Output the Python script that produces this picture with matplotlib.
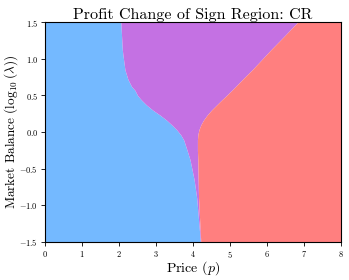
import matplotlib
matplotlib.use('Agg')
import matplotlib.pyplot as plt

plt.rcParams['font.family'] = 'serif'
plt.rcParams['font.serif'] = ['cmr10']
plt.rcParams['mathtext.fontset'] = 'cm'
plt.rcParams['axes.formatter.use_mathtext'] = True
plt.rcParams['axes.unicode_minus'] = True

# boundary curves: x position of each edge at given log10(lambda)
y_levels = [-1.5, -1.2, -0.9, -0.65, -0.38, -0.25, -0.11, -0.04, 0.03, 0.095,
            0.16, 0.23, 0.30, 0.37, 0.44, 0.5, 0.57, 0.62, 0.72, 0.85, 1.0,
            1.12, 1.3, 1.5]
blue_edge = [4.20, 4.15, 4.10, 4.03, 3.92, 3.84, 3.75, 3.67, 3.56, 3.43,
             3.29, 3.11, 2.91, 2.74, 2.60, 2.50, 2.43, 2.34, 2.24, 2.16, 2.12,
             2.09, 2.07, 2.05]
red_edge = [4.21, 4.18, 4.15, 4.14, 4.13, 4.12, 4.12, 4.13, 4.16, 4.21,
            4.28, 4.38, 4.50, 4.64, 4.78, 4.91, 5.05, 5.15, 5.34, 5.60, 5.88,
            6.10, 6.45, 6.83]

x_min, x_max = 0, 8
y_min, y_max = -1.5, 1.5
x_ticks = [0, 1, 2, 3, 4, 5, 6, 7, 8]
y_ticks = [-1.5, -1.0, -0.5, 0.0, 0.5, 1.0, 1.5]

c_blue = '#74b9ff'
c_purple = '#c471e3'
c_red = '#ff7f7f'

fig = plt.figure(figsize=(3.49, 2.80), dpi=100)
ax = fig.add_axes([0.129, 0.136, 0.848, 0.785])

ax.fill_betweenx(y_levels, x_min, blue_edge, color=c_blue, lw=0)
ax.fill_betweenx(y_levels, blue_edge, red_edge, color=c_purple, lw=0)
ax.fill_betweenx(y_levels, red_edge, x_max, color=c_red, lw=0)

ax.set_xlim(x_min, x_max)
ax.set_ylim(y_min, y_max)
ax.set_xticks(x_ticks)
ax.set_yticks(y_ticks)
ax.tick_params(labelsize=6, length=3, width=0.6, pad=2)
for s in ax.spines.values():
    s.set_linewidth(0.8)

ax.set_title('Profit Change of Sign Region: CR', fontsize=11.5, pad=2)
ax.set_xlabel(r'Price ($p$)', fontsize=10, va='center')
ax.set_ylabel(r'Market Balance ($\log_{10}(\lambda)$)', fontsize=9.5, va='center')
ax.xaxis.set_label_coords(0.5, -0.12)
ax.yaxis.set_label_coords(-0.115, 0.5)

fig.savefig('out.png', dpi=100)
